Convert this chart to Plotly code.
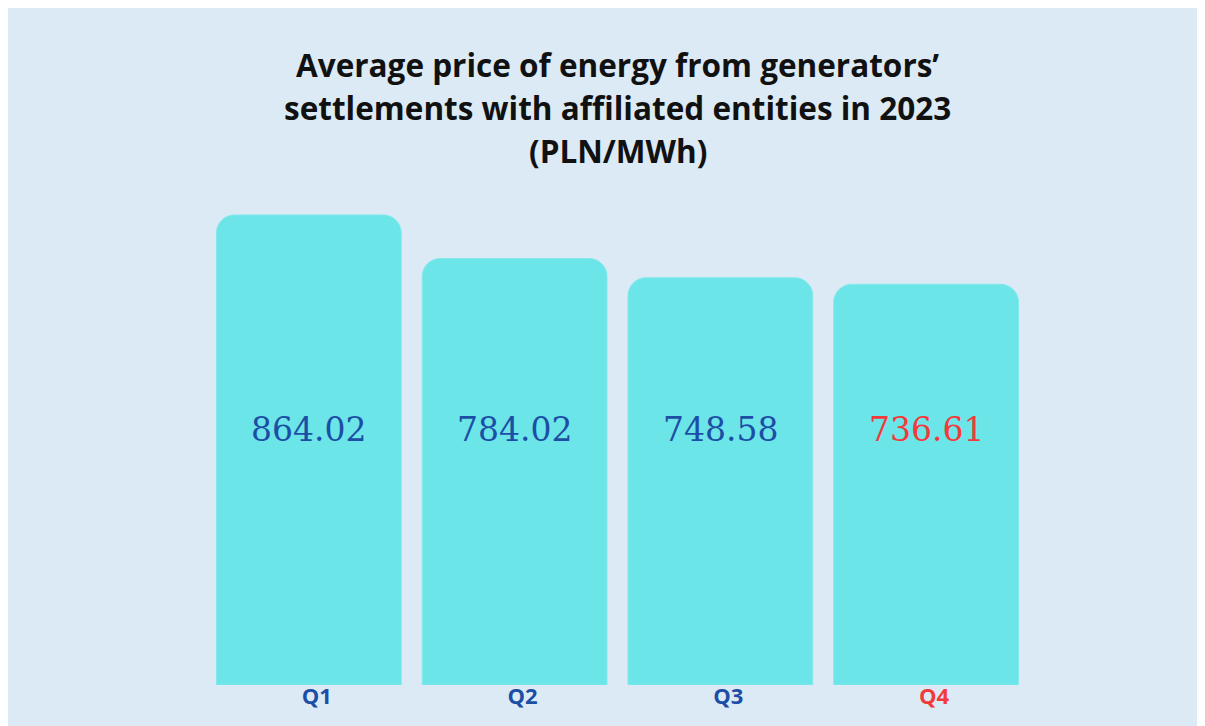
import plotly.graph_objects as go

categories = ["Q1", "Q2", "Q3", "Q4"]
values = [864.02, 784.02, 748.58, 736.61]
value_labels = ["864.02", "784.02", "748.58", "736.61"]
label_colors = ["#1c4ea6", "#1c4ea6", "#1c4ea6", "#f23a3a"]
title_lines = [
    "Average price of energy from generators’",
    "settlements with affiliated entities in 2023",
    "(PLN/MWh)",
]

BG = "#dbeaf5"
BAR = "#6be5e8"

fig = go.Figure()
fig.add_trace(go.Bar(
    x=categories, y=values,
    marker=dict(color=BAR, cornerradius=18, line=dict(color="#85e9ec", width=1)),
    hoverinfo="x+y",
    showlegend=False,
))

label_y = 468.75
for c, t, col in zip(categories, value_labels, label_colors):
    fig.add_annotation(x=c, y=label_y, text=t, showarrow=False,
                       xanchor="center", yanchor="middle",
                       font=dict(family="DejaVu Serif", size=33, color=col))

title_ys = [1.280, 1.190, 1.103]
for line, yy in zip(title_lines, title_ys):
    fig.add_annotation(x=0.5, y=yy, xref="paper", yref="paper", text=f"<b>{line}</b>",
                       showarrow=False, xanchor="center", yanchor="middle",
                       font=dict(family="Open Sans", size=31.5, color="#111111"))

ticktext = [f"<span style='color:{col}'><b>{c}</b></span>" for c, col in zip(categories, label_colors)]

fig.update_layout(
    width=1197, height=726,
    paper_bgcolor=BG, plot_bgcolor=BG,
    margin=dict(l=197.5, r=175.5, t=192, b=49),
    bargap=0.102,
    xaxis=dict(tickmode="array", tickvals=categories, ticktext=ticktext,
               showgrid=False, zeroline=False, showline=False, ticks="",
               tickfont=dict(family="Open Sans", size=22, color="#1a4aa6"),
               ticklabelshift=8, ticklabelstandoff=-4),
    yaxis=dict(range=[0, 891.5], visible=False, showgrid=False, zeroline=False),
)

fig.write_html("out.html")
